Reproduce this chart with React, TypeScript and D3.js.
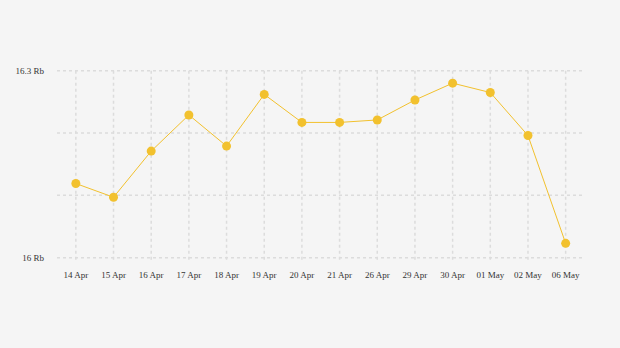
import React from "react";
import * as d3 from "d3";

const categories = ["14 Apr","15 Apr","16 Apr","17 Apr","18 Apr","19 Apr","20 Apr","21 Apr","26 Apr","29 Apr","30 Apr","01 May","02 May","06 May"];
const values = [16.119,16.097,16.171,16.229,16.179,16.262,16.217,16.217,16.221,16.253,16.280,16.265,16.196,16.023];
const yTicks = [16.0,16.1,16.2,16.3];
const yTickLabels: Record<string,string> = { "16": "16 Rb", "16.3": "16.3 Rb" };

const W = 620, H = 348;
const x = d3.scaleBand<string>().domain(categories).range([57, 584.5]).padding(0);
const y = d3.scaleLinear().domain([16, 16.3]).range([257.7, 70.7]);
const color = "#f2c12e";

export default function App() {
  const cx = (c: string) => (x(c) as number) + x.bandwidth() / 2;
  const line = d3.line<number>().x((_, i) => cx(categories[i])).y(d => y(d));
  return (
    <svg width={W} height={H} style={{ position: "absolute", left: 0, top: 0, background: "#f5f5f5" }}>
      <rect width={W} height={H} fill="#f5f5f5" />
      {yTicks.map(t => (
        <line key={t} x1={57} x2={584} y1={y(t)} y2={y(t)} stroke="#dcdcdc" strokeWidth={1.5} strokeDasharray="3,3" />
      ))}
      {categories.map(c => (
        <line key={c} x1={cx(c)} x2={cx(c)} y1={y(16.3)} y2={y(16) + 4} stroke="#dcdcdc" strokeWidth={1.5} strokeDasharray="3,3" />
      ))}
      {yTicks.filter(t => yTickLabels[String(t)]).map(t => (
        <text key={t} x={44} y={y(t)} dy="0.32em" textAnchor="end" fontFamily="Liberation Serif, Times New Roman, serif" fontSize={9} fill="#333">{yTickLabels[String(t)]}</text>
      ))}
      {categories.map(c => (
        <text key={c} x={cx(c)} y={278} textAnchor="middle" fontFamily="Liberation Serif, Times New Roman, serif" fontSize={9} fill="#333">{c}</text>
      ))}
      <path d={line(values) || ""} fill="none" stroke={color} strokeWidth={1} />
      {values.map((v, i) => (
        <circle key={i} cx={cx(categories[i])} cy={y(v)} r={4.5} fill={color} />
      ))}
    </svg>
  );
}
